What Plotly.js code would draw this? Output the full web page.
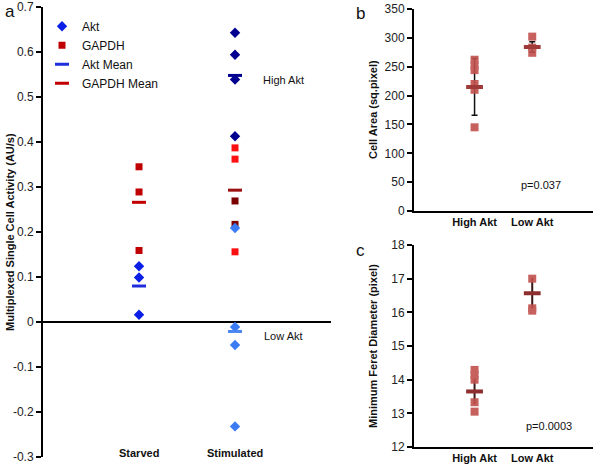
<!DOCTYPE html>
<html>
<head>
<meta charset="utf-8">
<script src="https://cdn.plot.ly/plotly-3.0.1.min.js"></script>
<style>
  html, body { margin: 0; padding: 0; background: #fff; }
  #chart { width: 600px; height: 469px; }
</style>
</head>
<body>
<div id="chart"></div>
<script>
// panel a - single cell activity (AU/s)
const groupsA = ['Starved', 'Stimulated'];
const starvedAkt = [0.124, 0.099, 0.016];
const starvedAktMean = [0.080];
const starvedGapdh = [0.345, 0.289, 0.159];
const starvedGapdhMean = [0.266];
const stimHighAkt = [0.643, 0.594, 0.539, 0.413];
const stimHighAktMean = [0.548];
const stimLowAkt = [0.209, -0.011, -0.051, -0.232];
const stimLowAktMean = [-0.021];
const stimGapdhBright = [0.387, 0.362, 0.156];
const stimGapdhDark = [0.269, 0.217];
const stimGapdhMean = [0.293];

// panel b - cell area (sq.pixel)
const groupsBC = ['High Akt', 'Low Akt'];
const areaHigh = [262, 252, 244, 220, 210, 145];
const areaLow = [302, 283, 274];
const areaMean = [215, 284];
const areaErr = [49, 9];

// panel c - minimum feret diameter (pixel)
const feretHigh = [14.29, 14.14, 14.0, 13.33, 13.05];
const feretLow = [17.0, 16.12, 16.05];
const feretMean = [13.65, 16.57];
const feretErr = [0.38, 0.45];

const FONT = 'Liberation Sans, Arial, sans-serif';

function rep(v, n) { return Array(n).fill(v); }

function pts(xv, yv, color, symbol, size, name, legend, xa, ya) {
    return {
        x: rep(xv, yv.length), y: yv, type: 'scatter', mode: 'markers',
        name: name, showlegend: legend, xaxis: xa, yaxis: ya,
        marker: { color: color, symbol: symbol, size: size },
        hoverinfo: 'y'
    };
}

function meanDash(xv, yv, color, size, width, name, legend, xa, ya) {
    return {
        x: Array.isArray(xv) ? xv : rep(xv, yv.length), y: yv,
        type: 'scatter', mode: 'markers', name: name, showlegend: legend,
        xaxis: xa, yaxis: ya,
        marker: { symbol: 'line-ew', size: size, line: { color: color, width: width } },
        hoverinfo: 'y'
    };
}

const traces = [
    // panel a
    pts(1, starvedAkt, '#0A1EE6', 'diamond', 8, 'Akt', true, 'x', 'y'),
    pts(1, starvedGapdh, '#C00000', 'square', 7, 'GAPDH', true, 'x', 'y'),
    meanDash(1, starvedAktMean, '#1E2EDC', 10, 3, 'Akt Mean', true, 'x', 'y'),
    meanDash(1, starvedGapdhMean, '#C00000', 10, 3, 'GAPDH Mean', true, 'x', 'y'),
    pts(2, stimGapdhBright, '#FF1010', 'square', 7, 'GAPDH', false, 'x', 'y'),
    pts(2, stimGapdhDark, '#7A0000', 'square', 7, 'GAPDH', false, 'x', 'y'),
    meanDash(2, stimGapdhMean, '#9A1010', 10, 3, 'GAPDH Mean', false, 'x', 'y'),
    pts(2, stimHighAkt, '#000090', 'diamond', 8, 'Akt', false, 'x', 'y'),
    pts(2, stimLowAkt, '#3B7BF5', 'diamond', 8, 'Akt', false, 'x', 'y'),
    meanDash(2, stimHighAktMean, '#000090', 10, 3, 'Akt Mean', false, 'x', 'y'),
    meanDash(2, stimLowAktMean, '#4A86F0', 10, 3, 'Akt Mean', false, 'x', 'y'),

    // panel b
    {
        x: [1, 2], y: areaMean, type: 'scatter', mode: 'markers', showlegend: false,
        xaxis: 'x2', yaxis: 'y2', marker: { size: 1, opacity: 0 },
        error_y: { type: 'data', array: areaErr, color: '#111', thickness: 1.5, width: 3 },
        hoverinfo: 'skip'
    },
    Object.assign(pts(1, areaHigh, '#C0504D', 'square', 8, 'High Akt', false, 'x2', 'y2'), { opacity: 0.9 }),
    Object.assign(pts(2, areaLow, '#C0504D', 'square', 8, 'Low Akt', false, 'x2', 'y2'), { opacity: 0.9 }),
    meanDash([1, 2], areaMean, '#9E3A38', 12, 4, 'Mean', false, 'x2', 'y2'),

    // panel c
    {
        x: [1, 2], y: feretMean, type: 'scatter', mode: 'markers', showlegend: false,
        xaxis: 'x3', yaxis: 'y3', marker: { size: 1, opacity: 0 },
        error_y: { type: 'data', array: feretErr, color: '#3a1515', thickness: 2, width: 0 },
        hoverinfo: 'skip'
    },
    Object.assign(pts(1, feretHigh, '#C0504D', 'square', 8, 'High Akt', false, 'x3', 'y3'), { opacity: 0.9 }),
    Object.assign(pts(2, feretLow, '#C0504D', 'square', 8, 'Low Akt', false, 'x3', 'y3'), { opacity: 0.9 }),
    meanDash([1, 2], feretMean, '#8E2E2E', 12, 4, 'Mean', false, 'x3', 'y3')
];

const yTick = { size: 12, color: '#222', family: FONT };

function ann(text, x, y, size, bold, extra) {
    return Object.assign({
        text: bold ? '<b>' + text + '</b>' : text,
        x: x, y: y, xref: 'paper', yref: 'paper', showarrow: false,
        xanchor: 'center', yanchor: 'middle',
        font: { family: FONT, size: size, color: '#111' }
    }, extra || {});
}

const layout = {
    width: 600, height: 469,
    margin: { l: 0, r: 0, t: 0, b: 0 },
    paper_bgcolor: '#fff', plot_bgcolor: 'rgba(0,0,0,0)',
    font: { family: FONT, color: '#111' },
    showlegend: true,
    legend: {
        x: 0.07, y: 0.975, xanchor: 'left', yanchor: 'top',
        font: { family: FONT, size: 12, color: '#111' },
        bgcolor: 'rgba(0,0,0,0)', itemwidth: 30, tracegroupgap: 0
    },
    xaxis: {
        domain: [0.0717, 0.5517], range: [0, 3],
        showline: false, showgrid: false, zeroline: false,
        showticklabels: false, ticks: '', fixedrange: true
    },
    yaxis: {
        domain: [0.0256, 0.985], range: [-0.3, 0.7],
        tickvals: [-0.3, -0.2, -0.1, 0, 0.1, 0.2, 0.3, 0.4, 0.5, 0.6, 0.7],
        ticktext: ['-0.3', '-0.2', '-0.1', '0', '0.1', '0.2', '0.3', '0.4', '0.5', '0.6', '0.7'],
        showline: true, linecolor: '#000', linewidth: 2,
        ticks: 'outside', ticklen: 5, tickwidth: 2, tickcolor: '#000',
        showgrid: false, zeroline: true, zerolinecolor: '#000', zerolinewidth: 2,
        tickfont: yTick, fixedrange: true
    },
    xaxis2: {
        domain: [0.69, 0.988], range: [-0.05, 3.05], anchor: 'y2',
        tickvals: [1, 2], ticktext: groupsBC.map(t => '<b>' + t + '</b>'),
        showline: true, linecolor: '#000', linewidth: 2, ticks: '',
        showgrid: false, zeroline: false,
        tickfont: { family: FONT, size: 11, color: '#111' }, fixedrange: true
    },
    yaxis2: {
        domain: [0.55, 0.981], range: [0, 350], anchor: 'x2', dtick: 50,
        showline: true, linecolor: '#000', linewidth: 2,
        ticks: 'outside', ticklen: 5, tickwidth: 2, tickcolor: '#000',
        showgrid: false, zeroline: false, tickfont: yTick, fixedrange: true
    },
    xaxis3: {
        domain: [0.69, 0.988], range: [-0.05, 3.05], anchor: 'y3',
        tickvals: [1, 2], ticktext: groupsBC.map(t => '<b>' + t + '</b>'),
        showline: true, linecolor: '#000', linewidth: 2, ticks: '',
        showgrid: false, zeroline: false,
        tickfont: { family: FONT, size: 11, color: '#111' }, fixedrange: true
    },
    yaxis3: {
        domain: [0.0469, 0.4776], range: [12, 18], anchor: 'x3', dtick: 1,
        showline: true, linecolor: '#000', linewidth: 2,
        ticks: 'outside', ticklen: 5, tickwidth: 2, tickcolor: '#000',
        showgrid: false, zeroline: false, tickfont: yTick, fixedrange: true
    },
    annotations: [
        ann('a', 10 / 600, 1 - 12 / 469, 17, false),
        ann('b', 360 / 600, 1 - 14 / 469, 17, false),
        ann('c', 360 / 600, 1 - 250 / 469, 17, false),
        ann('Multiplexed Single Cell Activity (AU/s)', 10 / 600, 1 - 232 / 469, 11, true, { textangle: -90 }),
        ann('Cell Area (sq.pixel)', 373 / 600, 1 - 110 / 469, 11, true, { textangle: -90 }),
        ann('Minimum Feret Diameter (pixel)', 373 / 600, 1 - 346 / 469, 11, true, { textangle: -90 }),
        ann('High Akt', 283 / 600, 1 - 80 / 469, 11, false),
        ann('Low Akt', 283 / 600, 1 - 336 / 469, 11, false),
        ann('p=0.037', 541 / 600, 1 - 185 / 469, 11, false),
        ann('p=0.0003', 549 / 600, 1 - 426 / 469, 11, false),
        Object.assign(ann(groupsA[0], 0, 1 - 453 / 469, 11, true), { x: 1, xref: 'x' }),
        Object.assign(ann(groupsA[1], 0, 1 - 453 / 469, 11, true), { x: 2, xref: 'x' })
    ]
};

Plotly.newPlot('chart', traces, layout, { displayModeBar: false, staticPlot: true });
</script>
</body>
</html>
